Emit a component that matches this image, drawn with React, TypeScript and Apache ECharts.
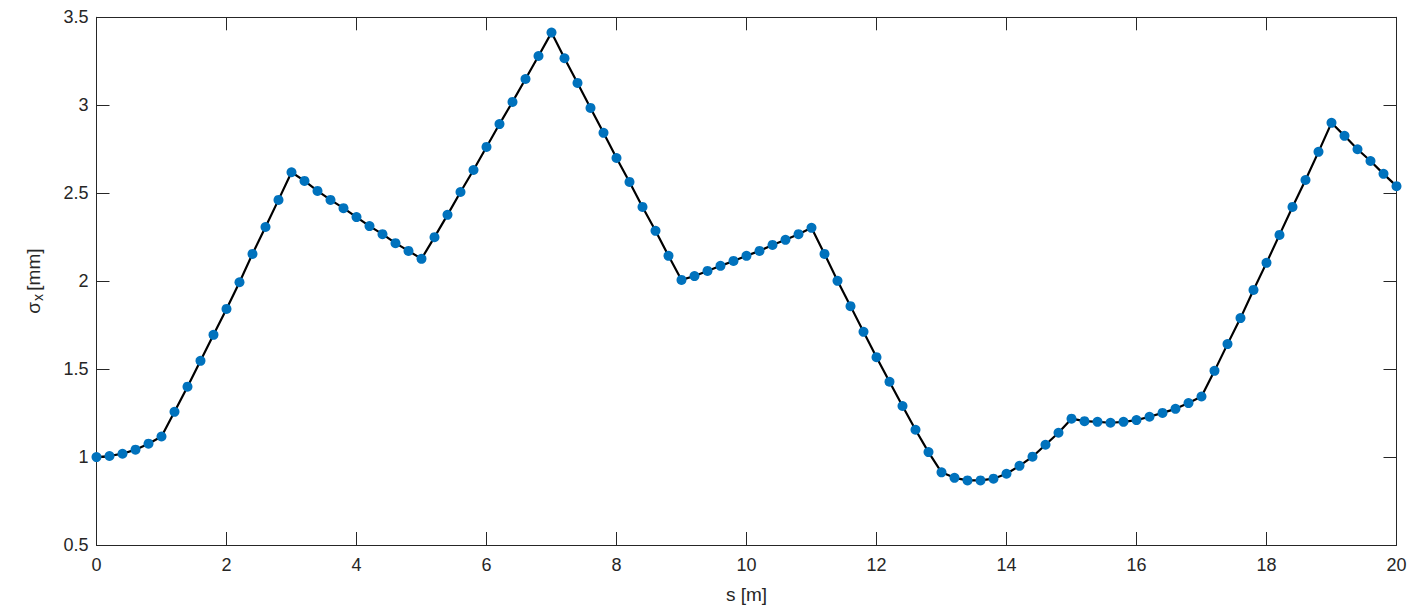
import React, { useEffect, useRef } from "react";
import * as echarts from "echarts";

const sPositions: number[] = Array.from({ length: 101 }, (_, i) => Number((i * 0.2).toFixed(1)));

const sigmaX: number[] = [
  1.0, 1.006, 1.019, 1.042, 1.076, 1.117,
  1.257, 1.4, 1.547, 1.695, 1.842, 1.994, 2.155, 2.308, 2.462, 2.619,
  2.57, 2.513, 2.462, 2.415, 2.364, 2.313, 2.267, 2.216, 2.172, 2.127,
  2.25, 2.377, 2.507, 2.632, 2.763, 2.893, 3.019, 3.149, 3.28, 3.413,
  3.267, 3.127, 2.985, 2.843, 2.7, 2.564, 2.422, 2.286, 2.144, 2.007,
  2.029, 2.058, 2.087, 2.115, 2.144, 2.172, 2.206, 2.235, 2.267, 2.303,
  2.155, 2.002, 1.858, 1.712, 1.568, 1.428, 1.29, 1.155, 1.028, 0.913,
  0.882, 0.867, 0.867, 0.877, 0.905, 0.95, 1.002, 1.07, 1.138, 1.218,
  1.204, 1.2, 1.195, 1.2, 1.21, 1.229, 1.251, 1.274, 1.307, 1.344,
  1.49, 1.642, 1.79, 1.95, 2.104, 2.263, 2.422, 2.575, 2.735, 2.9,
  2.826, 2.75, 2.683, 2.61, 2.54,
];

const xTicks = { min: 0, max: 20, interval: 2 };
const yTicks = { min: 0.5, max: 3.5, interval: 0.5 };

const FONT = "'Liberation Sans', Arial, Helvetica, sans-serif";
const AXIS_COLOR = "#262626";

export default function App() {
  const ref = useRef<HTMLDivElement>(null);
  useEffect(() => {
    document.body.style.margin = "0";
    if (!ref.current) return;
    const chart = echarts.init(ref.current, undefined, { renderer: "svg" });
    const data = sPositions.map((s, i) => [s, sigmaX[i]]);
    const axisLine = { show: true, onZero: false, lineStyle: { color: AXIS_COLOR, width: 1 } };
    const tick = { show: true, inside: true, length: 13, lineStyle: { color: AXIS_COLOR, width: 1 } };
    chart.setOption({
      animation: false,
      backgroundColor: "#ffffff",
      grid: { left: 96.5, right: 22.5, top: 17.3, bottom: 66, containLabel: false },
      xAxis: [
        {
          type: "value",
          min: xTicks.min,
          max: xTicks.max,
          interval: xTicks.interval,
          position: "bottom",
          axisLine,
          axisTick: tick,
          splitLine: { show: false },
          axisLabel: { color: AXIS_COLOR, fontSize: 18, fontFamily: FONT, margin: 11 },
          name: "s [m]",
          nameLocation: "middle",
          nameGap: 40,
          nameTextStyle: { color: AXIS_COLOR, fontSize: 19, fontFamily: FONT },
        },
        {
          type: "value",
          min: xTicks.min,
          max: xTicks.max,
          interval: xTicks.interval,
          position: "top",
          axisLine,
          axisTick: tick,
          splitLine: { show: false },
          axisLabel: { show: false },
        },
      ],
      yAxis: [
        {
          type: "value",
          min: yTicks.min,
          max: yTicks.max,
          interval: yTicks.interval,
          position: "left",
          axisLine,
          axisTick: tick,
          splitLine: { show: false },
          axisLabel: { color: AXIS_COLOR, fontSize: 18, fontFamily: FONT, margin: 8 },
          name: "{a|σ}{b|x} {a|[mm]}",
          nameLocation: "middle",
          nameGap: 52,
          nameTextStyle: {
            color: AXIS_COLOR,
            fontFamily: FONT,
            rich: {
              a: { fontSize: 19, fontFamily: FONT, color: AXIS_COLOR },
              b: { fontSize: 14, fontFamily: FONT, color: AXIS_COLOR, padding: [9, 0, 0, 1] },
            },
          },
        },
        {
          type: "value",
          min: yTicks.min,
          max: yTicks.max,
          interval: yTicks.interval,
          position: "right",
          axisLine,
          axisTick: tick,
          splitLine: { show: false },
          axisLabel: { show: false },
        },
      ],
      series: [
        {
          type: "line",
          data,
          xAxisIndex: 0,
          yAxisIndex: 0,
          lineStyle: { color: "#000000", width: 2.2 },
          itemStyle: { color: "#0072BD" },
          symbol: "circle",
          symbolSize: 10,
          showSymbol: true,
          z: 3,
        },
      ],
    });
    return () => chart.dispose();
  }, []);
  return <div ref={ref} style={{ width: 1419, height: 611 }} />;
}
